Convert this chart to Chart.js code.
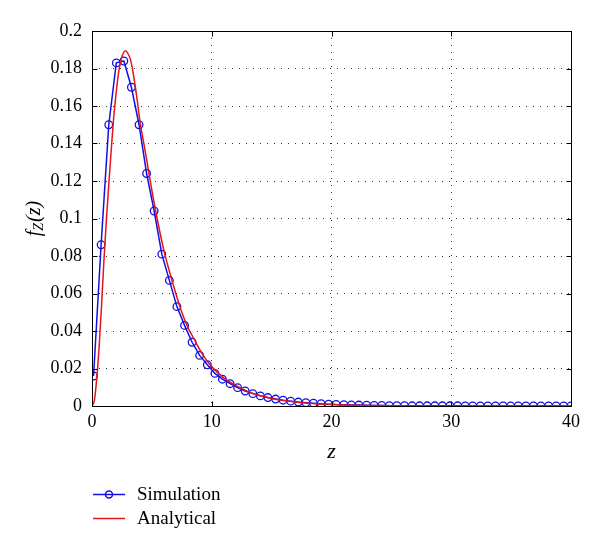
<!DOCTYPE html>
<html>
<head>
<meta charset="utf-8">
<script src="https://cdn.jsdelivr.net/npm/chart.js@4.4.1/dist/chart.umd.min.js"></script>
<style>
  html, body { margin: 0; padding: 0; background: #fff; }
  #wrap { width: 600px; height: 551px; }
</style>
</head>
<body>
<div id="wrap"><canvas id="chart"></canvas></div>
<script>
// simulation points (circles)
const simZ = [0.13, 0.76, 1.40, 2.03, 2.66, 3.29, 3.93, 4.56, 5.19, 5.83,
  6.46, 7.09, 7.73, 8.36, 8.99, 9.63, 10.26, 10.89, 11.53, 12.16,
  12.79, 13.43, 14.06, 14.69, 15.33, 15.96, 16.59, 17.23, 17.86, 18.49,
  19.13, 19.76, 20.39, 21.03, 21.66, 22.29, 22.93, 23.56, 24.19, 24.83,
  25.46, 26.09, 26.73, 27.36, 27.99, 28.63, 29.26, 29.89, 30.53, 31.16,
  31.79, 32.43, 33.06, 33.69, 34.33, 34.96, 35.59, 36.23, 36.86, 37.49,
  38.13, 38.76, 39.39, 40.0];
const simF = [0.016, 0.086, 0.150, 0.183, 0.184, 0.170, 0.150, 0.124, 0.104, 0.081,
  0.067, 0.053, 0.043, 0.034, 0.027, 0.022, 0.0174, 0.0143, 0.0119, 0.0098,
  0.0080, 0.0066, 0.0054, 0.0045, 0.0037, 0.0031, 0.0026, 0.0021, 0.0018, 0.0015,
  0.0012, 0.0010, 0.0008, 0.0007, 0.0006, 0.0005, 0.0004, 0.0003, 0.0003, 0.0002,
  0.0002, 0.0002, 0.0001, 0.0001, 0.0001, 0.0001, 0.0001, 0.0001, 0.0001, 0,
  0, 0, 0, 0, 0, 0, 0, 0, 0, 0,
  0, 0, 0, 0];

// analytical curve
const anaZ = [0, 0.2, 0.4, 0.6, 0.8, 1.0, 1.2, 1.4, 1.6, 1.8,
  2.0, 2.2, 2.4, 2.6, 2.8, 3.0, 3.2, 3.4, 3.6, 3.8,
  4.0, 4.3, 4.6, 5.0, 5.5, 6.0, 6.5, 7.0, 7.5, 8.0,
  8.5, 9.0, 9.5, 10, 11, 12, 13, 14, 15, 16,
  17, 18, 20, 22, 25, 30, 35, 40];
const anaF = [0, 0.003, 0.015, 0.032, 0.054, 0.078, 0.099, 0.118, 0.136, 0.153,
  0.166, 0.177, 0.184, 0.188, 0.1895, 0.188, 0.185, 0.179, 0.171, 0.162,
  0.152, 0.141, 0.130, 0.115, 0.098, 0.083, 0.071, 0.060, 0.050, 0.042,
  0.036, 0.030, 0.025, 0.021, 0.015, 0.011, 0.0078, 0.0056, 0.004, 0.0029,
  0.0021, 0.0015, 0.0008, 0.0004, 0.0002, 0.00005, 0, 0];

const yTickLabels = ['0', '0.02', '0.04', '0.06', '0.08', '0.1', '0.12', '0.14', '0.16', '0.18', '0.2'];
const seriesNames = ['Simulation', 'Analytical'];

const serif = "'Liberation Serif', 'DejaVu Serif', serif";
const blue = '#1010e6';
const red = '#e6141a';

const frame = {
  id: 'frame',
  afterDraw(chart) {
    const { ctx, chartArea: a, scales: { x, y } } = chart;
    ctx.save();
    ctx.strokeStyle = '#000';
    ctx.lineWidth = 1;
    const L = Math.round(a.left) + 0.5, R = Math.round(a.right) + 0.5;
    const T = Math.round(a.top) + 0.5, B = Math.round(a.bottom) + 0.5;
    ctx.strokeRect(L, T, R - L, B - T);
    // inward ticks
    ctx.beginPath();
    x.ticks.forEach(t => {
      const px = Math.round(x.getPixelForValue(t.value)) + 0.5;
      ctx.moveTo(px, B); ctx.lineTo(px, B - 5);
      ctx.moveTo(px, T); ctx.lineTo(px, T + 5);
    });
    y.ticks.forEach(t => {
      const py = Math.round(y.getPixelForValue(t.value)) + 0.5;
      ctx.moveTo(L, py); ctx.lineTo(L + 5, py);
      ctx.moveTo(R, py); ctx.lineTo(R - 5, py);
    });
    ctx.stroke();

    // y title f_Z(z)
    ctx.fillStyle = '#000';
    ctx.translate(35, (a.top + a.bottom) / 2);
    ctx.rotate(-Math.PI / 2);
    ctx.textBaseline = 'middle';
    const big = 'italic 20px ' + serif, small = 'italic 14px ' + serif;
    ctx.font = big; const w1 = ctx.measureText('f').width;
    ctx.font = small; const w2 = ctx.measureText('Z').width;
    ctx.font = big; const w3 = ctx.measureText('(z)').width;
    let sx = -(w1 + w2 + w3 + 1) / 2;
    ctx.font = big; ctx.fillText('f', sx, 0); sx += w1;
    ctx.font = small; ctx.fillText('Z', sx, 4); sx += w2 + 1;
    ctx.font = big; ctx.fillText('(z)', sx, 0);
    ctx.restore();

    // legend
    ctx.save();
    ctx.font = '19px ' + serif;
    ctx.fillStyle = '#000';
    ctx.textBaseline = 'middle';
    const rows = [494, 518];
    chart.data.datasets.forEach((ds, i) => {
      const ly = rows[i] + 0.5;
      ctx.strokeStyle = ds.borderColor;
      ctx.lineWidth = 1.5;
      ctx.beginPath(); ctx.moveTo(93, ly); ctx.lineTo(125, ly); ctx.stroke();
      if (ds.pointRadius > 0) {
        ctx.beginPath(); ctx.arc(109, ly, 3.5, 0, Math.PI * 2); ctx.stroke();
      }
      ctx.fillText(seriesNames[i], 137, rows[i] + 1);
    });
    ctx.restore();
  }
};

new Chart(document.getElementById('chart'), {
  type: 'line',
  data: {
    datasets: [{
      label: seriesNames[0],
      data: simZ.map((z, i) => ({ x: z, y: simF[i] })),
      borderColor: blue,
      backgroundColor: 'transparent',
      borderWidth: 1.5,
      pointRadius: 3.8,
      pointBorderWidth: 1.3,
      pointBorderColor: blue,
      pointBackgroundColor: 'transparent',
      tension: 0,
      order: 1
    }, {
      label: seriesNames[1],
      data: anaZ.map((z, i) => ({ x: z, y: anaF[i] })),
      borderColor: red,
      backgroundColor: 'transparent',
      borderWidth: 1.5,
      pointRadius: 0,
      cubicInterpolationMode: 'monotone',
      order: 0
    }]
  },
  options: {
    responsive: true,
    maintainAspectRatio: false,
    animation: false,
    layout: { padding: { top: 31, right: 29, bottom: 82, left: 0 } },
    plugins: { legend: { display: false }, tooltip: { enabled: false } },
    scales: {
      x: {
        type: 'linear', min: 0, max: 40,
        ticks: { stepSize: 10, padding: 5, color: '#000', font: { family: serif, size: 18 } },
        grid: { color: '#333', drawTicks: false },
        border: { display: false, dash: [1, 6] },
        title: { display: true, text: 'z', color: '#000', font: { family: serif, size: 22, style: 'italic' }, padding: { top: 0, bottom: 4 } },
        afterFit(s) { s.height = 63; }
      },
      y: {
        min: 0, max: 0.2,
        ticks: {
          stepSize: 0.02, padding: 10, color: '#000', font: { family: serif, size: 18 },
          callback: (v, i) => yTickLabels[i]
        },
        grid: { color: '#333', drawTicks: false },
        border: { display: false, dash: [1, 6] },
        afterFit(s) { s.width = 92; }
      }
    }
  },
  plugins: [frame]
});
</script>
</body>
</html>
